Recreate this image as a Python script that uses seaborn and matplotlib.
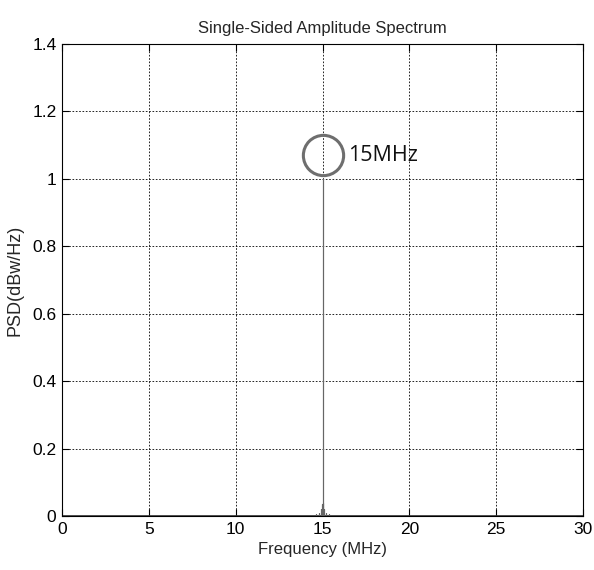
import matplotlib
matplotlib.use("Agg")
import matplotlib.pyplot as plt
import seaborn as sns
import pandas as pd
from matplotlib.ticker import FuncFormatter

# Spectrum lines (MHz, amplitude)
line_freq = [14.65, 14.8, 14.9, 14.95, 15.0, 15.05, 15.1, 15.2, 15.35]
line_amp = [0.006, 0.01, 0.02, 0.035, 1.0, 0.04, 0.02, 0.01, 0.006]
freq_range = [0.0, 30.0]
peak_freq = [15.0]
peak_marker_y = [1.07]
xticks = [0, 5, 10, 15, 20, 25, 30]
yticks = [0, 0.2, 0.4, 0.6, 0.8, 1.0, 1.2, 1.4]

sns.set_style("white")
plt.rcParams['font.family'] = ['Liberation Sans', 'DejaVu Sans']

fig = plt.figure(figsize=(5.94, 5.70), dpi=100)
ax = fig.add_axes([0.1044, 0.0947, 0.8771, 0.8281])

# baseline
sns.lineplot(x=freq_range, y=[0, 0], ax=ax, color="#333333", linewidth=1.2,
             estimator=None)
# stem-style spectral lines
xs, ys = [], []
for f, a in zip(line_freq, line_amp):
    xs += [f, f, f]
    ys += [0, a, 0]
df = pd.DataFrame({"freq": xs, "amp": ys})
sns.lineplot(data=df, x="freq", y="amp", ax=ax, sort=False, color="#666666",
             linewidth=0.8, estimator=None)

# circle annotation
ax.plot(peak_freq, peak_marker_y, marker='o', markersize=29, markerfacecolor='none',
        markeredgecolor='#6e6e6e', markeredgewidth=2.2, linestyle='none', zorder=5)
ax.text(16.45, 1.07, "15MHz", fontsize=15.5, va='center', ha='left',
        family=['Open Sans', 'DejaVu Sans'], color='#111111')

ax.set_xlim(0, 30)
ax.set_ylim(0, 1.4)
ax.set_xticks(xticks)
ax.set_yticks(yticks)
ax.yaxis.set_major_formatter(FuncFormatter(lambda v, p: f"{v:g}"))
ax.grid(True, color='black', linestyle=(0, (2, 2)), linewidth=0.6)
ax.tick_params(direction='in', length=5, width=0.8, labelsize=12.5, colors='black',
               left=True, bottom=True, top=True, right=True, pad=4)
for s in ax.spines.values():
    s.set_color('black')
    s.set_linewidth(0.8)
    s.set_visible(True)

ax.set_title("Single-Sided Amplitude Spectrum", fontsize=12, pad=8)
ax.set_xlabel("Frequency (MHz)", fontsize=12, labelpad=4)
ax.set_ylabel("PSD(dBw/Hz)", fontsize=13, labelpad=6)

fig.savefig("out.png", dpi=100)
